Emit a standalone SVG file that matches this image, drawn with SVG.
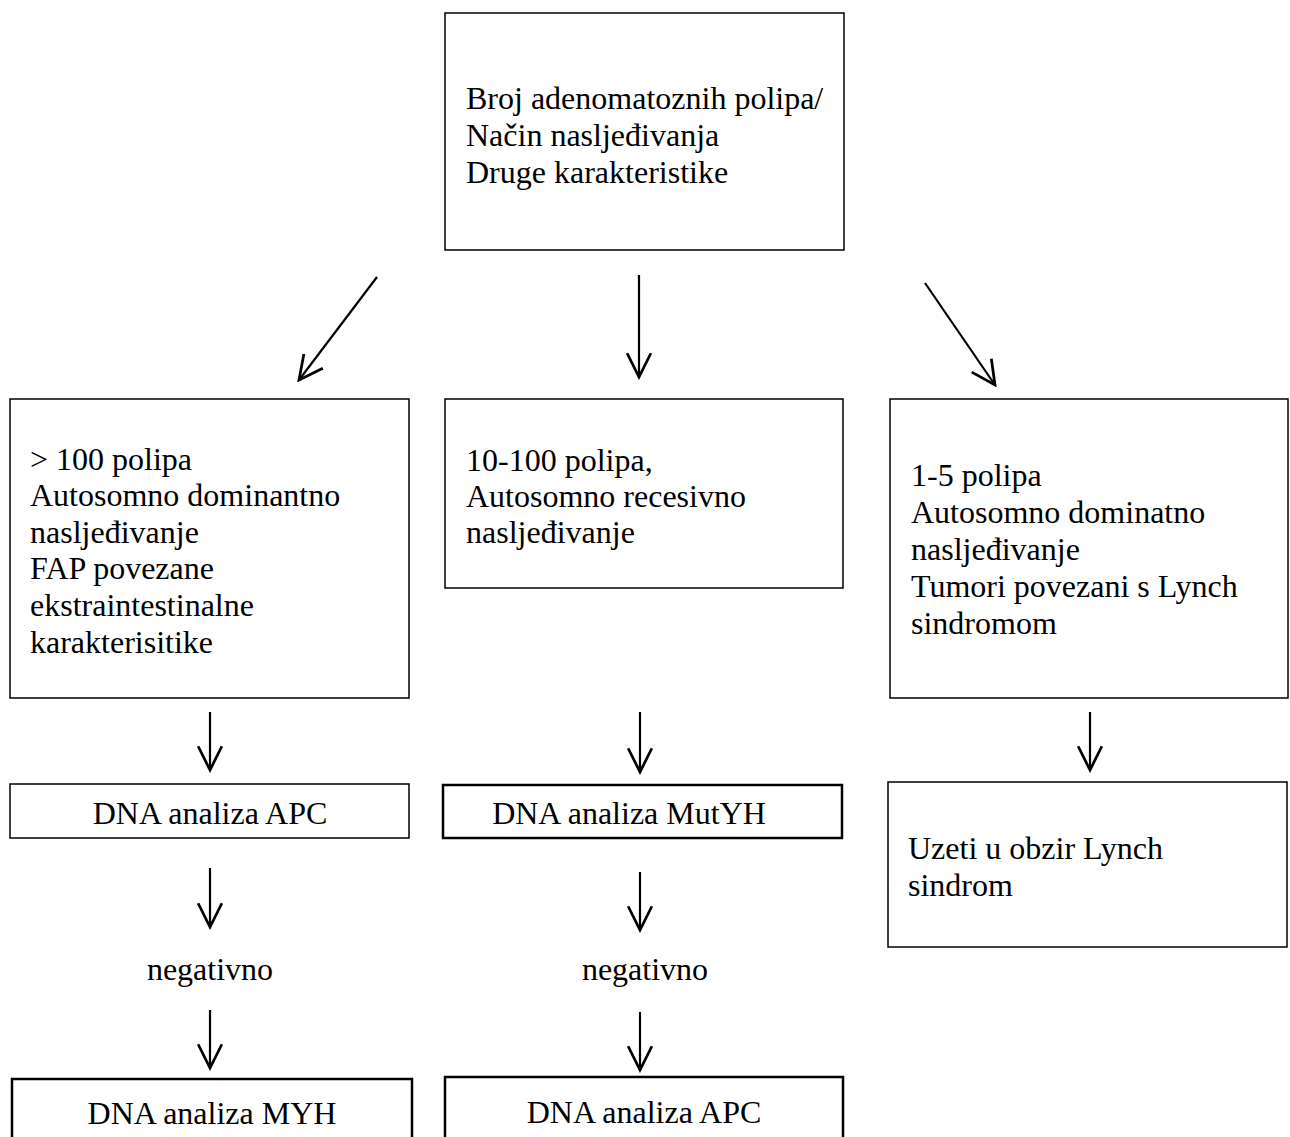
<svg xmlns="http://www.w3.org/2000/svg" width="1290" height="1137" viewBox="0 0 1290 1137">
<style>
.box{fill:#fff;stroke:#000;stroke-width:1.5}
.thick{fill:#fff;stroke:#000;stroke-width:2.5}
.t{font-family:"Liberation Serif","Times New Roman",serif;font-size:32px;fill:#000}
.c{text-anchor:middle}
.con{stroke:#000;stroke-width:2.2;fill:none}
</style>
<defs>
<marker id="ah" markerUnits="userSpaceOnUse" markerWidth="30" markerHeight="30" viewBox="-22 -12 24 24" refX="0" refY="0" orient="auto">
<path d="M-19,-9.5 L0,0 L-19,9.5" fill="none" stroke="#000" stroke-width="2.2"/>
</marker>
</defs>
<rect width="1290" height="1137" fill="#fff"/>
<g id="n-top">
<rect class="box" x="445" y="13" width="399" height="237"/>
<text class="t" x="466" y="109">Broj adenomatoznih polipa/</text>
<text class="t" x="466" y="146">Način nasljeđivanja</text>
<text class="t" x="466" y="183">Druge karakteristike</text>
</g>
<g id="n-fap">
<rect class="box" x="10" y="399" width="399" height="299"/>
<text class="t" x="30" y="470">&gt; 100 polipa</text>
<text class="t" x="30" y="506">Autosomno dominantno</text>
<text class="t" x="30" y="543">nasljeđivanje</text>
<text class="t" x="30" y="579">FAP povezane</text>
<text class="t" x="30" y="616">ekstraintestinalne</text>
<text class="t" x="30" y="653">karakterisitike</text>
</g>
<g id="n-map">
<rect class="box" x="445" y="399" width="398" height="189"/>
<text class="t" x="466" y="471">10-100 polipa,</text>
<text class="t" x="466" y="507">Autosomno recesivno</text>
<text class="t" x="466" y="543">nasljeđivanje</text>
</g>
<g id="n-lynch">
<rect class="box" x="890" y="399" width="398" height="299"/>
<text class="t" x="911" y="486">1-5 polipa</text>
<text class="t" x="911" y="523">Autosomno dominatno</text>
<text class="t" x="911" y="560">nasljeđivanje</text>
<text class="t" x="911" y="597">Tumori povezani s Lynch</text>
<text class="t" x="911" y="634">sindromom</text>
</g>
<g id="n-apc1">
<rect class="box" x="10" y="784" width="399" height="54"/>
<text class="t c" x="210" y="824">DNA analiza APC</text>
</g>
<g id="n-mutyh">
<rect class="thick" x="443" y="785" width="399" height="53"/>
<text class="t c" x="629" y="824">DNA analiza MutYH</text>
</g>
<g id="n-uzeti">
<rect class="box" x="888" y="782" width="399" height="165"/>
<text class="t" x="908" y="859">Uzeti u obzir Lynch</text>
<text class="t" x="908" y="896">sindrom</text>
</g>
<g id="l-neg1">
<text class="t c" x="210" y="980">negativno</text>
</g>
<g id="l-neg2">
<text class="t c" x="645" y="980">negativno</text>
</g>
<g id="n-myh">
<rect class="thick" x="12" y="1079" width="400" height="70"/>
<text class="t c" x="212" y="1124">DNA analiza MYH</text>
</g>
<g id="n-apc2">
<rect class="thick" x="445" y="1077" width="398" height="72"/>
<text class="t c" x="644" y="1123">DNA analiza APC</text>
</g>
<g id="connectors">
<line class="con" x1="377" y1="277" x2="299" y2="380" marker-end="url(#ah)"/>
<line class="con" x1="639" y1="275" x2="639" y2="377" marker-end="url(#ah)"/>
<line class="con" x1="925" y1="283" x2="995" y2="385" marker-end="url(#ah)"/>
<line class="con" x1="210" y1="712" x2="210" y2="770" marker-end="url(#ah)"/>
<line class="con" x1="640" y1="712" x2="640" y2="772" marker-end="url(#ah)"/>
<line class="con" x1="1090" y1="712" x2="1090" y2="770" marker-end="url(#ah)"/>
<line class="con" x1="210" y1="868" x2="210" y2="927" marker-end="url(#ah)"/>
<line class="con" x1="640" y1="872" x2="640" y2="930" marker-end="url(#ah)"/>
<line class="con" x1="210" y1="1010" x2="210" y2="1068" marker-end="url(#ah)"/>
<line class="con" x1="640" y1="1012" x2="640" y2="1070" marker-end="url(#ah)"/>
</g>
</svg>
